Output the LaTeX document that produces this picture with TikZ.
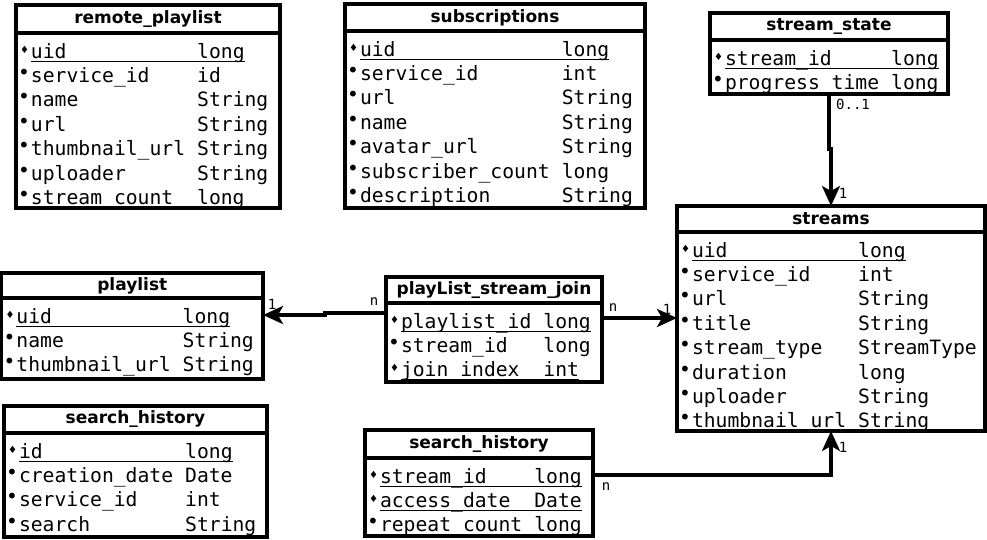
\documentclass[tikz,border=0pt]{standalone}
\usepackage{fontspec}
\newfontfamily\titlefont{DejaVu Sans}
\newfontfamily\monofont{DejaVu Sans Mono}
\usetikzlibrary{positioning,arrows.meta}

\newlength\cw
\setlength\cw{11.87pt}
\newlength\namecol
\newcommand\cols[1]{\setlength\namecol{#1\cw}}
\newcommand\fmark{\makebox[15pt][r]{\raisebox{3pt}{\titlefont\fontsize{20}{20}\selectfont •}\hspace{1pt}}}
\newcommand\kmark{\makebox[15pt][r]{\raisebox{5pt}{\titlefont\fontsize{10}{10}\selectfont ♦}\hspace{2pt}}}
\newcommand\fld[2]{\fmark\makebox[\namecol][l]{#1}#2}
\newcommand\keyfld[2]{\kmark\setbox0\hbox{\makebox[\namecol][l]{#1}#2}\rlap{\rule[-3.8pt]{\wd0}{1.3pt}}\box0}

\tikzset{
  tbl-title/.style={draw,line width=3.4pt,outer sep=0pt,inner sep=0pt,anchor=north west,
    minimum width=#1,font=\titlefont\bfseries\fontsize{17}{20}\selectfont},
  tbl-body/.style={draw,line width=3.4pt,outer sep=0pt,inner sep=0pt,text width=#1,
    align=left,text height=25,font=\monofont\fontsize{19.7}{24.4}\selectfont},
  rel/.style={line width=3.4pt,-{Stealth[length=20pt,width=18pt,inset=5pt]}},
  mult/.style={font=\monofont\fontsize{14}{14}\selectfont,inner sep=0pt},
}

\begin{document}
\begin{tikzpicture}[x=1pt,y=-1pt]
  \useasboundingbox (0,0) rectangle (987,539);

  % tables
  \node[tbl-title=264,minimum height=28] (rp) at (16,5) {remote\_playlist};
  \node[tbl-body=264,text depth=150,below=0pt of rp] (rp-body) {\cols{14}%
    \keyfld{uid}{long}\\
    \fld{service\_id}{id}\\
    \fld{name}{String}\\
    \fld{url}{String}\\
    \fld{thumbnail\_url}{String}\\
    \fld{uploader}{String}\\
    \fld{stream\_count}{long}};

  \node[tbl-title=300,minimum height=27] (subs) at (345,4) {subscriptions};
  \node[tbl-body=300,text depth=152,below=0pt of subs] (subs-body) {\cols{17}%
    \keyfld{uid}{long}\\
    \fld{service\_id}{int}\\
    \fld{url}{String}\\
    \fld{name}{String}\\
    \fld{avatar\_url}{String}\\
    \fld{subscriber\_count}{long}\\
    \fld{description}{String}};

  \node[tbl-title=238,minimum height=27] (ss) at (710,13) {stream\_state};
  \node[tbl-body=238,text depth=29,below=0pt of ss] (ss-body) {\cols{14}%
    \keyfld{stream\_id}{long}\\
    \fld{progress\_time}{long}};

  \node[tbl-title=308,minimum height=26] (streams) at (677,206) {streams};
  \node[tbl-body=308,text depth=174,below=0pt of streams] (streams-body) {\cols{14}%
    \keyfld{uid}{long}\\
    \fld{service\_id}{int}\\
    \fld{url}{String}\\
    \fld{title}{String}\\
    \fld{stream\_type}{StreamType}\\
    \fld{duration}{long}\\
    \fld{uploader}{String}\\
    \fld{thumbnail\_url}{String}};

  \node[tbl-title=261.5,minimum height=25] (pl) at (1.5,273) {playlist};
  \node[tbl-body=261.5,text depth=56,below=0pt of pl] (pl-body) {\cols{14}%
    \keyfld{uid}{long}\\
    \fld{name}{String}\\
    \fld{thumbnail\_url}{String}};

  \node[tbl-title=216,minimum height=26] (join) at (386,277) {playList\_stream\_join};
  \node[tbl-body=216,text depth=54,below=0pt of join] (join-body) {\cols{12}%
    \keyfld{playlist\_id}{long}\\
    \fld{stream\_id}{long}\\
    \keyfld{join\_index}{int}};

  \node[tbl-title=263,minimum height=27] (shl) at (4,406) {search\_history};
  \node[tbl-body=263,text depth=79,below=0pt of shl] (shl-body) {\cols{14}%
    \keyfld{id}{long}\\
    \fld{creation\_date}{Date}\\
    \fld{service\_id}{int}\\
    \fld{search}{String}};

  \node[tbl-title=228,minimum height=28] (shm) at (365,430) {search\_history};
  \node[tbl-body=228,text depth=53,below=0pt of shm] (shm-body) {\cols{13}%
    \keyfld{stream\_id}{long}\\
    \keyfld{access\_date}{Date}\\
    \fld{repeat\_count}{long}};

  % relations
  \draw[rel] (ss-body.south) -- ++(0,55) -| (streams.north);
  \draw[rel] ([yshift=-10pt]join.south west) -- ++(-61,0) |- ([yshift=-17pt]pl.south east);
  \draw[rel] ([yshift=-15pt]join.south east) -- ([yshift=-15pt]join.south east -| streams-body.west);
  \draw[rel] ([yshift=-17pt]shm.south east) -| (streams-body.south);

  % multiplicities
  \node[mult] at (853,104) {0..1};
  \node[mult] at (843,193) {1};
  \node[mult] at (374,302) {n};
  \node[mult] at (272,304) {1};
  \node[mult] at (613,308) {n};
  \node[mult] at (667,309) {1};
  \node[mult] at (606,487) {n};
  \node[mult] at (843,447) {1};
\end{tikzpicture}
\end{document}
